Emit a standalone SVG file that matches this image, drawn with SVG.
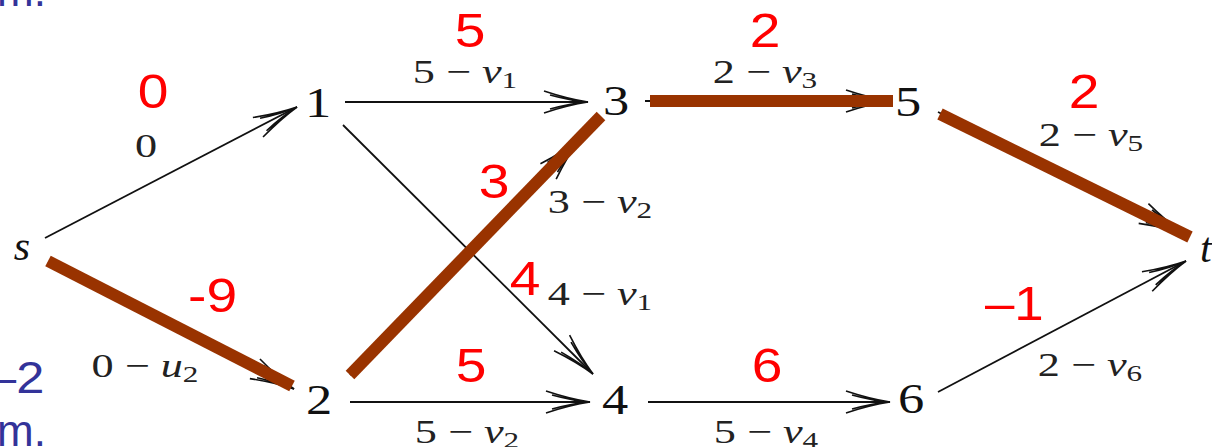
<svg xmlns="http://www.w3.org/2000/svg" width="1212" height="447" viewBox="0 0 1212 447">
<defs>
<style>
.node{font-family:"Liberation Serif",serif;font-size:42px;fill:#111;text-anchor:middle}
.it{font-style:italic}
.lab{font-family:"Liberation Serif",serif;font-size:34px;fill:#222;text-anchor:middle}
.sub{font-size:24px}
.red{font-family:"Liberation Sans",Arial,sans-serif;font-size:48px;fill:#ff0000;text-anchor:middle}
.blue{font-family:"Liberation Sans",Arial,sans-serif;font-size:44px;fill:#333399}
.edge{stroke:#111;stroke-width:1.8;fill:none;marker-end:url(#ah)}
.hl{stroke:#993300;stroke-width:12;fill:none}
</style>
<marker id="ah" markerUnits="userSpaceOnUse" viewBox="-50 -15 55 30" refX="0" refY="0" markerWidth="55" markerHeight="30" orient="auto" overflow="visible">
<path d="M-44,-11 Q-20,-3 0,0 Q-20,3 -44,11 M-38,-7 Q-16,-1 0,0 Q-16,1 -38,7" fill="none" stroke="#111" stroke-width="1.6"/>
</marker>
</defs>
<rect width="1212" height="447" fill="#ffffff"/>

<g id="side-text">
<text class="blue" x="-3" y="6">m.</text>
<text class="blue" transform="translate(-12,393) scale(1.15,1)">–2</text>
<text class="blue" x="-3" y="446">m.</text>
</g>

<g id="connectors">
<line class="edge" x1="45" y1="238" x2="297" y2="107"/>
<line class="edge" x1="48" y1="262" x2="294" y2="389"/>
<line class="edge" x1="345" y1="102" x2="588" y2="102"/>
<line class="edge" x1="343" y1="125" x2="593" y2="374"/>
<line class="edge" x1="350" y1="375" x2="579" y2="140"/>
<line class="edge" x1="350" y1="402" x2="590" y2="402"/>
<line class="edge" x1="645" y1="101" x2="890" y2="101"/>
<line class="edge" x1="648" y1="402" x2="890" y2="402"/>
<line class="edge" x1="938" y1="112" x2="1183" y2="233"/>
<line class="edge" x1="938" y1="392" x2="1186" y2="261"/>
<line class="hl" x1="48" y1="261" x2="292" y2="386"/>
<line class="hl" x1="350" y1="375" x2="601" y2="116"/>
<line class="hl" x1="650" y1="101" x2="893" y2="101"/>
<line class="hl" x1="940" y1="114" x2="1190" y2="237"/>
</g>

<g id="node-s"><text class="node it" x="22" y="260" font-size="40">s</text></g>
<g id="node-1"><text class="node" transform="translate(318,117) scale(1.25,1)">1</text></g>
<g id="node-2"><text class="node" transform="translate(319,414) scale(1.25,1)">2</text></g>
<g id="node-3"><text class="node" transform="translate(616,115) scale(1.25,1)">3</text></g>
<g id="node-4"><text class="node" transform="translate(615,414) scale(1.25,1)">4</text></g>
<g id="node-5"><text class="node" transform="translate(908,116) scale(1.25,1)">5</text></g>
<g id="node-6"><text class="node" transform="translate(911,413) scale(1.25,1)">6</text></g>
<g id="node-t"><text class="node it" x="1200" y="262" style="text-anchor:start">t</text></g>

<g id="edge-labels">
<text class="lab" transform="translate(146,157) scale(1.3,1)">0</text>
<text class="lab" transform="translate(145,377) scale(1.3,1)">0 − <tspan class="it">u</tspan><tspan class="sub" dy="5">2</tspan></text>
<text class="lab" transform="translate(465,83) scale(1.3,1)">5 − <tspan class="it">v</tspan><tspan class="sub" dy="5">1</tspan></text>
<text class="lab" transform="translate(765,83) scale(1.3,1)">2 − <tspan class="it">v</tspan><tspan class="sub" dy="5">3</tspan></text>
<text class="lab" transform="translate(1091,146) scale(1.3,1)">2 − <tspan class="it">v</tspan><tspan class="sub" dy="5">5</tspan></text>
<text class="lab" transform="translate(600,213) scale(1.3,1)">3 − <tspan class="it">v</tspan><tspan class="sub" dy="5">2</tspan></text>
<text class="lab" transform="translate(600,305) scale(1.3,1)">4 − <tspan class="it">v</tspan><tspan class="sub" dy="5">1</tspan></text>
<text class="lab" transform="translate(467,443) scale(1.3,1)">5 − <tspan class="it">v</tspan><tspan class="sub" dy="5">2</tspan></text>
<text class="lab" transform="translate(766,443) scale(1.3,1)">5 − <tspan class="it">v</tspan><tspan class="sub" dy="5">4</tspan></text>
<text class="lab" transform="translate(1090,376) scale(1.3,1)">2 − <tspan class="it">v</tspan><tspan class="sub" dy="5">6</tspan></text>
</g>

<g id="values">
<text class="red" transform="translate(153,108) scale(1.15,1)">0</text>
<text class="red" transform="translate(470,47) scale(1.15,1)">5</text>
<text class="red" transform="translate(765,47) scale(1.15,1)">2</text>
<text class="red" transform="translate(1084,108) scale(1.15,1)">2</text>
<text class="red" transform="translate(188,312) scale(1.15,1)" style="text-anchor:start">-9</text>
<text class="red" transform="translate(494,198) scale(1.15,1)">3</text>
<text class="red" transform="translate(525,295) scale(1.15,1)">4</text>
<text class="red" transform="translate(471,382) scale(1.15,1)">5</text>
<text class="red" transform="translate(767,382) scale(1.15,1)">6</text>
<text class="red" transform="translate(985,320) scale(1.1,1)" style="text-anchor:start">–1</text>
</g>
</svg>
